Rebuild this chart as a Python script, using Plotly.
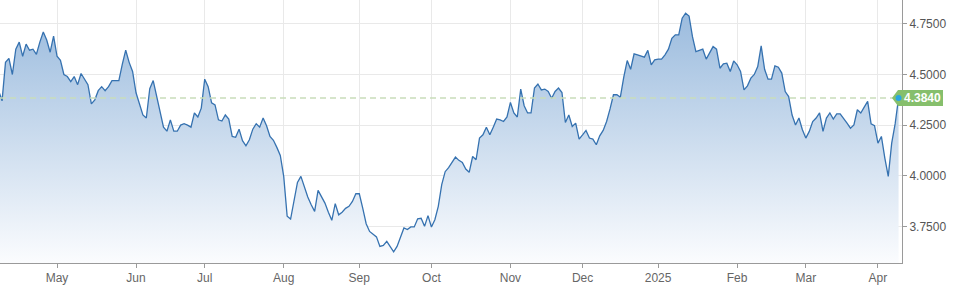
import pandas as pd
import plotly.graph_objects as go

# ---- data (US 10Y yield, daily, weekdays) ----
apr_2024 = [4.42, 4.37, 4.56, 4.58, 4.50, 4.625, 4.66, 4.59, 4.65, 4.62, 4.625, 4.60, 4.66, 4.71, 4.67, 4.61, 4.69]
may_2024 = [4.59, 4.57, 4.50, 4.49, 4.465, 4.49, 4.45, 4.505, 4.48, 4.45, 4.355, 4.375, 4.42, 4.44, 4.42, 4.44,
            4.47, 4.47, 4.47, 4.55, 4.62, 4.56, 4.515]
jun_2024 = [4.41, 4.35, 4.30, 4.285, 4.43, 4.47, 4.39, 4.31, 4.24, 4.22, 4.276, 4.22, 4.22, 4.25, 4.257, 4.25,
            4.24, 4.31, 4.29, 4.334]
jul_2024 = [4.477, 4.44, 4.36, 4.35, 4.276, 4.27, 4.30, 4.28, 4.194, 4.19, 4.23, 4.173, 4.148, 4.178, 4.23, 4.257,
            4.24, 4.285, 4.247, 4.194, 4.175, 4.14, 4.10]
aug_2024 = [3.997, 3.80, 3.786, 3.88, 3.967, 3.997, 3.945, 3.895, 3.857, 3.824, 3.928, 3.895, 3.865, 3.82, 3.78,
            3.862, 3.807, 3.82, 3.839, 3.849, 3.873, 3.911]
sep_2024 = [3.911, 3.84, 3.763, 3.725, 3.709, 3.698, 3.651, 3.656, 3.676, 3.651, 3.624, 3.651, 3.693, 3.742, 3.734,
            3.747, 3.747, 3.787, 3.79, 3.75, 3.803]
oct_2024 = [3.747, 3.783, 3.849, 3.956, 4.02, 4.04, 4.063, 4.092, 4.076, 4.066, 4.033, 4.017, 4.095, 4.079, 4.186,
            4.202, 4.24, 4.202, 4.24, 4.28, 4.276, 4.268, 4.29]
nov_2024 = [4.362, 4.31, 4.29, 4.428, 4.346, 4.31, 4.31, 4.433, 4.453, 4.424, 4.428, 4.416, 4.383, 4.416, 4.433,
            4.411, 4.263, 4.30, 4.243, 4.26, 4.181]
dec_2024 = [4.202, 4.224, 4.186, 4.181, 4.153, 4.197, 4.224, 4.268, 4.33, 4.40, 4.40, 4.388, 4.487, 4.569, 4.526,
            4.602, 4.597, 4.592, 4.586, 4.619, 4.548, 4.572]
jan_2025 = [4.576, 4.576, 4.597, 4.625, 4.679, 4.696, 4.696, 4.778, 4.803, 4.789, 4.687, 4.613, 4.618, 4.625,
            4.576, 4.605, 4.638, 4.625, 4.531, 4.553, 4.556, 4.515, 4.567]
feb_2025 = [4.548, 4.515, 4.424, 4.444, 4.482, 4.50, 4.539, 4.641, 4.526, 4.477, 4.477, 4.543, 4.536, 4.507,
            4.416, 4.391, 4.30, 4.251, 4.285, 4.227]
mar_2025 = [4.186, 4.219, 4.268, 4.285, 4.31, 4.219, 4.285, 4.31, 4.28, 4.306, 4.306, 4.285, 4.26, 4.235, 4.251,
            4.326, 4.31, 4.339, 4.367, 4.256, 4.247]
apr_2025 = [4.161, 4.194, 4.087, 3.997, 4.161, 4.256, 4.384]

values = (apr_2024 + may_2024 + jun_2024 + jul_2024 + aug_2024 + sep_2024 + oct_2024 + nov_2024 + dec_2024
          + jan_2025 + feb_2025 + mar_2025 + apr_2025)
dates = pd.bdate_range("2024-04-08", "2025-04-09")
n = min(len(dates), len(values))
dates = dates[:n]
values = values[:n]

# month ticks placed on the first weekday of each month (weekends are collapsed)
tick_dates = ["2024-05-01", "2024-06-03", "2024-07-01", "2024-08-01", "2024-09-02", "2024-10-01",
              "2024-11-01", "2024-12-02", "2025-01-01", "2025-02-03", "2025-03-03", "2025-04-01"]
tick_text = ["May", "Jun", "Jul", "Aug", "Sep", "Oct", "Nov", "Dec", "2025", "Feb", "Mar", "Apr"]
y_ticks = [3.75, 4.0, 4.25, 4.5, 4.75]

last_date = dates[-1]
last_val = values[-1]

FONT = "Liberation Sans, Arial, sans-serif"
GREEN = "#86bf6c"

fig = go.Figure()
fig.add_trace(go.Scatter(
    x=dates, y=values, mode="lines",
    line=dict(color="#3672b0", width=1.3),
    fill="tozeroy",
    fillgradient=dict(type="vertical", start=3.569, stop=4.868,
                      colorscale=[[0, "rgb(251,252,254)"], [1, "rgb(150,184,220)"]]),
    hoverinfo="skip", showlegend=False,
))

fig.update_layout(
    width=954, height=287,
    margin=dict(l=0, r=52, t=0, b=24),
    paper_bgcolor="white", plot_bgcolor="white",
    font=dict(family=FONT, size=12, color="#555"),
    showlegend=False,
    xaxis=dict(
        range=["2024-04-08 09:36", "2025-04-10 00:00"],
        rangebreaks=[dict(bounds=["sat", "mon"])],
        tickvals=tick_dates, ticktext=tick_text,
        showgrid=True, gridcolor="#e9e9e9", gridwidth=1,
        showline=True, linecolor="#9a9a9a", linewidth=1,
        ticks="outside", ticklen=4, tickcolor="#9a9a9a",
        tickfont=dict(family=FONT, size=12, color="#666"),
        zeroline=False, fixedrange=True,
    ),
    yaxis=dict(
        range=[3.569, 4.868], side="right",
        tickvals=y_ticks, tickformat=".4f",
        showgrid=True, gridcolor="#e9e9e9", gridwidth=1,
        showline=True, linecolor="#9a9a9a", linewidth=1,
        ticks="outside", ticklen=4, tickcolor="#9a9a9a",
        tickfont=dict(family=FONT, size=12, color="#555"),
        zeroline=False, fixedrange=True,
    ),
)

# dashed line at the last value
fig.add_shape(type="line", xref="paper", x0=0, x1=1, yref="y", y0=last_val, y1=last_val,
              line=dict(color="#c9ddbb", width=1.5, dash="6px,4px"), layer="above")
# green pointer label
fig.add_shape(type="path", xref="paper", xanchor=1, xsizemode="pixel",
              yref="y", yanchor=last_val, ysizemode="pixel",
              path="M -10,0 L -4,8 L 41,8 L 41,-8 L -4,-8 Z",
              fillcolor=GREEN, line=dict(width=0), layer="above")
# blue dot at last point
fig.add_shape(type="circle", xref="x", xanchor=last_date, xsizemode="pixel",
              yref="y", yanchor=last_val, ysizemode="pixel",
              x0=-3, x1=3, y0=-3, y1=3,
              fillcolor="#2aa7e0", line=dict(width=0), layer="above")
fig.add_annotation(xref="paper", x=1, xshift=20, xanchor="center",
                   yref="y", y=last_val, yanchor="middle",
                   text="<b>%.4f</b>" % last_val, showarrow=False,
                   font=dict(family=FONT, size=12, color="white"))

fig.write_html("out.html")
